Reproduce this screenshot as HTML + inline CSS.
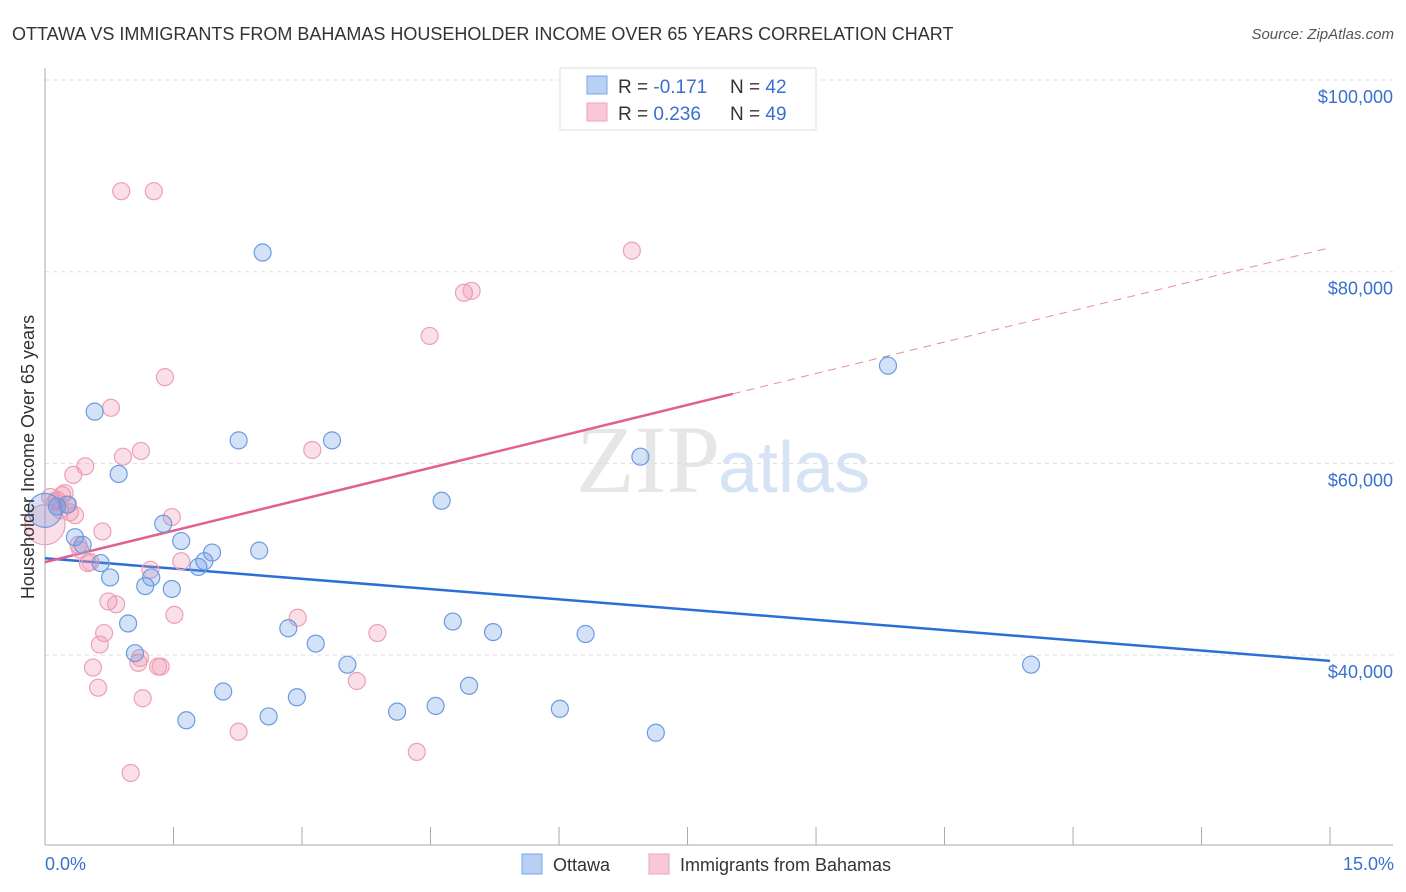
<!DOCTYPE html>
<html><head><meta charset="utf-8"><style>
body{margin:0;background:#fff;font-family:"Liberation Sans",sans-serif;}
svg{display:block}
</style></head><body>
<svg id="chart" width="1406" height="892" viewBox="0 0 1406 892">
<text x="12" y="40" font-size="18" fill="#333">OTTAWA VS IMMIGRANTS FROM BAHAMAS HOUSEHOLDER INCOME OVER 65 YEARS CORRELATION CHART</text>
<text x="1394" y="39" font-size="15" fill="#555" font-style="italic" text-anchor="end">Source: ZipAtlas.com</text>
<text x="720" y="492" font-size="96" fill="#e6e6e6" text-anchor="end" font-family="Liberation Serif,serif">ZIP</text>
<text x="718" y="492" font-size="72" fill="#d6e3f5">atlas</text>
<g id="grid"></g>
<g id="axes"></g>
<g id="trend"></g>
<g id="points"></g>
<text transform="translate(34,457) rotate(-90)" font-size="18" fill="#333" text-anchor="middle">Householder Income Over 65 years</text>
<text x="45" y="870" font-size="18" fill="#3a6fd0">0.0%</text>
<text x="1394" y="870" font-size="18" fill="#3a6fd0" text-anchor="end">15.0%</text>
<g>
<rect x="560" y="68" width="256" height="62" fill="#fff" stroke="#ddd"/>
<rect x="587" y="76" width="20" height="18" fill="#b8d0f4" stroke="#7aa4e4"/>
<rect x="587" y="103" width="20" height="18" fill="#f9c8d6" stroke="#eba3bb"/>
<text x="618" y="93" font-size="19" fill="#333">R = <tspan fill="#3a6fd0">-0.171</tspan></text>
<text x="730" y="93" font-size="19" fill="#333">N = <tspan fill="#3a6fd0">42</tspan></text>
<text x="618" y="120" font-size="19" fill="#333">R = <tspan fill="#3a6fd0">0.236</tspan></text>
<text x="730" y="120" font-size="19" fill="#333">N = <tspan fill="#3a6fd0">49</tspan></text>
</g>
<g>
<rect x="522" y="854" width="20" height="20" fill="#b8d0f4" stroke="#7aa4e4"/>
<text x="553" y="871" font-size="18" fill="#333">Ottawa</text>
<rect x="649" y="854" width="20" height="20" fill="#f9c8d6" stroke="#eba3bb"/>
<text x="680" y="871" font-size="18" fill="#333">Immigrants from Bahamas</text>
</g>
</svg>
<script>
const yTicks=[40,60,80,100];
const yTickLabels=["$40,000","$60,000","$80,000","$100,000"];
const xTicks=[0,1.5,3,4.5,6,7.5,9,10.5,12,13.5,15];
const ottawaX=[0,.14,.26,.35,.44,.58,.65,.76,.86,.97,1.05,1.17,1.24,1.38,1.48,1.59,1.65,1.79,1.86,1.95,2.08,2.26,2.5,2.54,2.61,2.84,2.94,3.16,3.35,3.53,4.11,4.56,4.63,4.76,4.95,5.23,6.01,6.31,6.95,7.13,9.84,11.51];
const ottawaY=[55.1,55.5,55.7,52.3,51.5,65.4,49.6,48.1,58.9,43.3,40.2,47.2,48.1,53.7,46.9,51.9,33.2,49.2,49.8,50.7,36.2,62.4,50.9,82.0,33.6,42.8,35.6,41.2,62.4,39.0,34.1,34.7,56.1,43.5,36.8,42.4,34.4,42.2,60.7,31.9,70.2,39.0];
const bahX=[0,.06,.12,.14,.18,.2,.23,.27,.29,.33,.35,.39,.41,.47,.5,.53,.56,.62,.64,.67,.69,.74,.77,.83,.89,.91,1.0,1.09,1.11,1.12,1.14,1.23,1.27,1.32,1.35,1.4,1.48,1.51,1.59,2.26,2.95,3.12,3.64,3.88,4.34,4.49,4.89,4.98,6.85];
const bahY=[53.6,56.5,56.0,56.2,55.1,56.7,56.9,55.7,54.9,58.8,54.6,51.5,51.0,59.7,49.6,49.7,38.7,36.6,41.1,52.9,42.3,45.6,65.8,45.3,88.4,60.7,27.7,39.2,39.7,61.3,35.5,48.9,88.4,38.8,38.8,69.0,54.4,44.2,49.8,32.0,43.9,61.4,37.3,42.3,29.9,73.3,77.8,78.0,82.2];
const ottawaTrend=[50.1,39.4];
const bahTrend=[49.7,82.5];
const bahSolidEnd=8.03;
const NS="http://www.w3.org/2000/svg";
const X=p=>45+p*85.67;
const Y=v=>80+(100-v)*9.585;
function mk(tag,attrs,parent){const e=document.createElementNS(NS,tag);for(const k in attrs)e.setAttribute(k,attrs[k]);document.getElementById(parent).appendChild(e);return e;}
yTicks.forEach((t,i)=>{
 const l=mk('line',{x1:45,x2:1393,y1:Y(t),y2:Y(t),stroke:'#ddd','stroke-dasharray':'4,4'},'grid');
 
 
 const tx=mk('text',{x:1393,y:Y(t)+23,'font-size':18,fill:'#3a6fd0','text-anchor':'end'},'grid');
 tx.textContent=yTickLabels[i];
 
 
});
const ya=mk('line',{x1:45,x2:45,y1:68,y2:845,stroke:'#aaa'},'axes');


const xa=mk('line',{x1:45,x2:1393,y1:845,y2:845,stroke:'#aaa'},'axes');


xTicks.forEach(t=>{
 const l=mk('line',{x1:X(t),x2:X(t),y1:827,y2:845,stroke:'#aaa'},'axes');
 
 
});
function pts(xs,ys,fill,stroke,name,big){
 xs.forEach((x,i)=>{
  const c=mk('circle',{cx:X(x),cy:Y(ys[i]),r:i===0?big:8.5,fill:fill,stroke:stroke,'stroke-width':1.2},'points');
  
  
 });
}
pts(bahX,bahY,'rgba(240,140,170,0.28)','#eba0b8','bahamas-point',20);
pts(ottawaX,ottawaY,'rgba(100,150,230,0.28)','#6b9be0','ottawa-point',17);
const bt=mk('line',{x1:X(0),y1:Y(ottawaTrend[0]),x2:X(15),y2:Y(ottawaTrend[1]),stroke:'#2b6fd6','stroke-width':2.5},'trend');


const pAt=p=>bahTrend[0]+(bahTrend[1]-bahTrend[0])*p/15;
const pt=mk('line',{x1:X(0),y1:Y(bahTrend[0]),x2:X(bahSolidEnd),y2:Y(pAt(bahSolidEnd)),stroke:'#e35f8c','stroke-width':2.5},'trend');


const pd=mk('line',{x1:X(bahSolidEnd),y1:Y(pAt(bahSolidEnd)),x2:X(15),y2:Y(bahTrend[1]),stroke:'#e88aa8','stroke-width':1,'stroke-dasharray':'8,6'},'trend');


</script>
</body></html>
